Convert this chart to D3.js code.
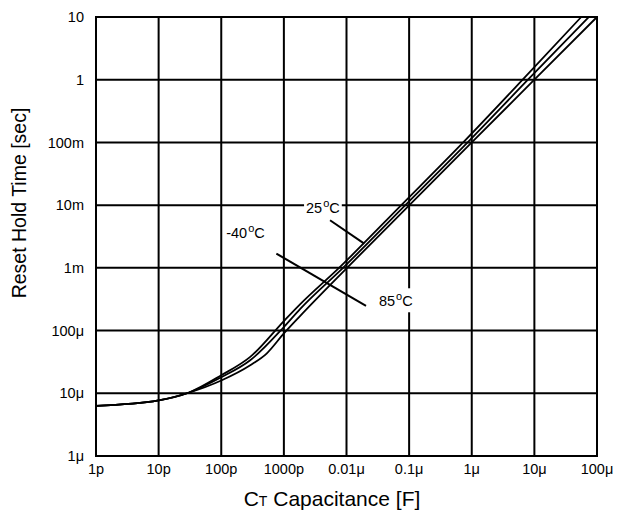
<!DOCTYPE html>
<html>
<head>
<meta charset="utf-8">
<script src="https://cdn.jsdelivr.net/npm/d3@7"></script>
<style>
  body { margin: 0; background: #fff; }
  text { font-family: "Liberation Sans", Arial, sans-serif; fill: #000; }
</style>
</head>
<body>
<div id="chart"></div>
<script>
// capacitance [F] vs reset hold time [sec]
const serieM40 = [[1e-12, 6.3e-6], [1e-11, 7.7e-6], [3e-11, 1.02e-5], [1e-10, 1.94e-5], [2.9e-10, 3.8e-5],
  [1e-9, 1.42e-4], [1.81e-9, 2.62e-4], [7.6e-9, 1e-3], [7.5e-8, 1e-2], [7.3e-7, 0.1], [6.5e-6, 1], [5.6e-5, 10]];
const serie25 = [[1e-12, 6.3e-6], [1e-11, 7.7e-6], [3e-11, 1.02e-5], [1e-10, 1.8e-5], [2.9e-10, 3.36e-5],
  [1e-9, 1.14e-4], [1.81e-9, 2.2e-4], [8.8e-9, 1e-3], [8.7e-8, 1e-2], [8.6e-7, 0.1], [7.9e-6, 1], [7.4e-5, 10]];
const serie85 = [[1e-12, 6.3e-6], [1e-11, 7.7e-6], [3e-11, 1.02e-5], [1e-10, 1.6e-5], [2.9e-10, 2.8e-5],
  [5.3e-10, 4.3e-5], [1e-9, 9e-5], [1.81e-9, 1.7e-4], [1.02e-8, 1e-3], [1.01e-7, 1e-2], [1e-6, 0.1], [1e-5, 1], [1e-4, 10]];

const xTicks = [1e-12, 1e-11, 1e-10, 1e-9, 1e-8, 1e-7, 1e-6, 1e-5, 1e-4];
const xTickLabels = ["1p", "10p", "100p", "1000p", "0.01\u03bc", "0.1\u03bc", "1\u03bc", "10\u03bc", "100\u03bc"];
const yTicks = [1e-6, 1e-5, 1e-4, 1e-3, 1e-2, 1e-1, 1, 10];
const yTickLabels = ["1\u03bc", "10\u03bc", "100\u03bc", "1m", "10m", "100m", "1", "10"];

// temperature labels: text anchor and leader line, in data units
const tempLabels = ["25", "-40", "85"];
const labelAt = [[2.26e-9, 7.4e-3], [1.2e-10, 3.0e-3], [3.3e-8, 2.44e-4]];
const leaders = [[[5.46e-9, 5.74e-3], [1.92e-8, 2.44e-3]], [[7.59e-10, 1.69e-3], [2.05e-8, 2.47e-4]]];

const width = 623, height = 511;
const margin = { top: 17, right: 26, bottom: 55, left: 96 };
const w = width - margin.left - margin.right;
const h = height - margin.top - margin.bottom;

const svg = d3.select("#chart").append("svg")
  .attr("width", width)
  .attr("height", height);

const g = svg.append("g")
  .attr("transform", "translate(" + margin.left + "," + margin.top + ")");

const x = d3.scaleLog().domain([1e-12, 1e-4]).range([0, w]);
const y = d3.scaleLog().domain([1e-6, 10]).range([h, 0]);

// grid
g.selectAll(".vgrid").data(xTicks).enter().append("line")
  .attr("x1", d => x(d)).attr("x2", d => x(d))
  .attr("y1", 0).attr("y2", h)
  .attr("stroke", "#000").attr("stroke-width", 2);
g.selectAll(".hgrid").data(yTicks).enter().append("line")
  .attr("x1", 0).attr("x2", w)
  .attr("y1", d => y(d)).attr("y2", d => y(d))
  .attr("stroke", "#000").attr("stroke-width", 2);

// tick labels
g.selectAll(".xlab").data(xTicks).enter().append("text")
  .attr("x", d => x(d)).attr("y", h + 18)
  .attr("text-anchor", "middle")
  .style("font-size", "14.5px")
  .text((d, i) => xTickLabels[i]);
g.selectAll(".ylab").data(yTicks).enter().append("text")
  .attr("x", -12).attr("y", d => y(d))
  .attr("dy", "0.35em")
  .attr("text-anchor", "end")
  .style("font-size", "14.5px")
  .text((d, i) => yTickLabels[i]);

// axis titles
const xt = svg.append("text")
  .attr("x", 332).attr("y", 506)
  .attr("text-anchor", "middle")
  .style("font-size", "21px");
xt.append("tspan").text("C");
xt.append("tspan").style("font-size", "14px").text("T");
xt.append("tspan").text(" Capacitance [F]");

svg.append("text")
  .attr("transform", "translate(19,203) rotate(-90)")
  .attr("text-anchor", "middle")
  .attr("dy", "0.35em")
  .style("font-size", "19.5px")
  .text("Reset Hold Time [sec]");

// temperature labels with white box behind
tempLabels.forEach((t, i) => {
  const lab = g.append("g");
  const txt = lab.append("text")
    .attr("x", x(labelAt[i][0])).attr("y", y(labelAt[i][1]))
    .style("font-size", "14.5px");
  txt.append("tspan").text(t);
  txt.append("tspan").attr("dy", -6).attr("dx", 1).style("font-size", "11px").text("o");
  txt.append("tspan").attr("dy", 6).text("C");
  const bb = txt.node().getBBox();
  lab.insert("rect", "text")
    .attr("x", bb.x - 2).attr("y", bb.y - 2)
    .attr("width", bb.width + 4).attr("height", bb.height + 5)
    .attr("fill", "#fff");
});

g.selectAll(".leader").data(leaders).enter().append("line")
  .attr("x1", d => x(d[0][0])).attr("y1", d => y(d[0][1]))
  .attr("x2", d => x(d[1][0])).attr("y2", d => y(d[1][1]))
  .attr("stroke", "#000").attr("stroke-width", 2);

// curves
const line = d3.line()
  .x(d => x(d[0]))
  .y(d => y(d[1]))
  .curve(d3.curveMonotoneX);

g.selectAll(".curve").data([serieM40, serie25, serie85]).enter().append("path")
  .attr("d", line)
  .attr("fill", "none")
  .attr("stroke", "#000")
  .attr("stroke-width", 1.8);

// frame
g.append("rect")
  .attr("width", w).attr("height", h)
  .attr("fill", "none")
  .attr("stroke", "#000").attr("stroke-width", 2);
</script>
</body>
</html>
